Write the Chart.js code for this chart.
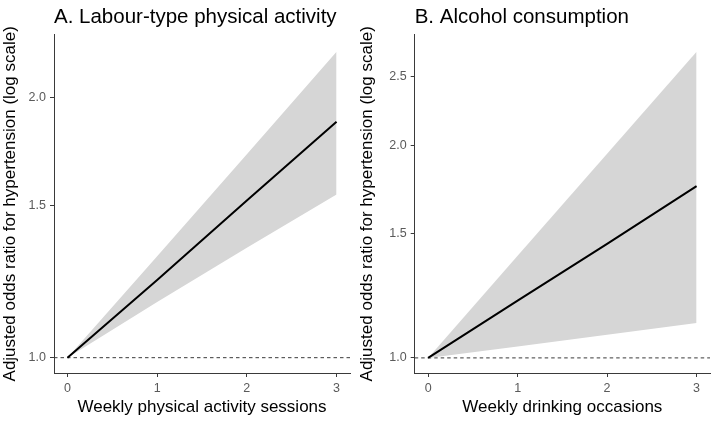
<!DOCTYPE html>
<html>
<head>
<meta charset="utf-8">
<script src="https://cdn.jsdelivr.net/npm/chart.js@4.4.1/dist/chart.umd.min.js"></script>
<style>
  body { margin: 0; background: #fff; }
  .wrap { display: flex; width: 714px; height: 422px; }
  .panel { position: relative; width: 357px; height: 422px; }
</style>
</head>
<body>
<div class="wrap">
  <div class="panel"><canvas id="chartA"></canvas></div>
  <div class="panel"><canvas id="chartB"></canvas></div>
</div>
<script>
// valores
const xValues = [0, 1, 2, 3];
const xTicks = [0, 1, 2, 3];

// A. atividade física tipo trabalho
const aEstimate = [1.00, 1.23, 1.52, 1.875];
const aLower = [1.00, 1.16, 1.34, 1.545];
const aUpper = [1.00, 1.31, 1.72, 2.26];
const aYTicks = [1.0, 1.5, 2.0];

// B. consumo de álcool
const bEstimate = [1.00, 1.205, 1.45, 1.75];
const bLower = [1.00, 1.038, 1.078, 1.12];
const bUpper = [1.00, 1.395, 1.945, 2.71];
const bYTicks = [1.0, 1.5, 2.0, 2.5];

const fontFamily = '"Liberation Sans", Arial, sans-serif';
const axisColor = '#3a3a3a';
const tickColor = '#5a5a5a';

// linha tracejada de referência em OR = 1
const refLinePlugin = {
    id: 'refLine',
    beforeDatasetsDraw(chart) {
        const { ctx, chartArea, scales } = chart;
        const y = scales.y.getPixelForValue(1);
        ctx.save();
        ctx.strokeStyle = axisColor;
        ctx.lineWidth = 1;
        ctx.setLineDash([3.5, 3]);
        ctx.beginPath();
        ctx.moveTo(chartArea.left, y);
        ctx.lineTo(chartArea.right, y);
        ctx.stroke();
        ctx.restore();
    }
};

function criarGrafico(canvasId, cfg) {
    const ctx = document.getElementById(canvasId).getContext('2d');
    const pts = arr => xValues.map((x, i) => ({ x: x, y: arr[i] }));
    return new Chart(ctx, {
        type: 'line',
        data: {
            datasets: [
                {
                    data: pts(cfg.upper),
                    borderWidth: 0,
                    pointRadius: 0,
                    backgroundColor: '#d6d6d6',
                    fill: '+1',
                    order: 2
                },
                {
                    data: pts(cfg.lower),
                    borderWidth: 0,
                    pointRadius: 0,
                    fill: false,
                    order: 2
                },
                {
                    data: pts(cfg.estimate),
                    borderColor: '#000000',
                    borderWidth: 2,
                    pointRadius: 0,
                    fill: false,
                    order: 0 // desenhada por cima da faixa
                }
            ]
        },
        options: {
            responsive: true,
            maintainAspectRatio: false,
            animation: false,
            layout: { padding: { left: 0, right: cfg.padRight, top: 0, bottom: 4 } },
            plugins: {
                legend: { display: false },
                tooltip: { enabled: false },
                title: {
                    display: true,
                    text: cfg.title,
                    align: 'start',
                    fullSize: false,
                    color: '#000000',
                    font: { family: fontFamily, size: 20.5, weight: 'normal' },
                    padding: { top: 5, bottom: 5 }
                }
            },
            scales: {
                x: {
                    type: 'linear',
                    min: -0.15,
                    max: 3.15,
                    afterBuildTicks: s => { s.ticks = xTicks.map(v => ({ value: v })); },
                    afterFit: s => { s.height = 45; },
                    grid: { drawOnChartArea: false, drawTicks: true, tickLength: 4, color: axisColor },
                    border: { display: true, color: axisColor, width: 1 },
                    ticks: {
                        color: tickColor,
                        padding: 4,
                        font: { family: fontFamily, size: 12.5 },
                        callback: v => String(v)
                    },
                    title: {
                        display: true,
                        text: cfg.xTitle,
                        color: '#000000',
                        font: { family: fontFamily, size: 17 },
                        padding: { top: 2, bottom: 0 }
                    }
                },
                y: {
                    type: 'logarithmic',
                    min: cfg.yMin,
                    max: cfg.yMax,
                    afterBuildTicks: s => { s.ticks = cfg.yTicks.map(v => ({ value: v })); },
                    afterFit: s => { s.width = cfg.yWidth; },
                    grid: { drawOnChartArea: false, drawTicks: true, tickLength: 4, color: axisColor },
                    border: { display: true, color: axisColor, width: 1 },
                    ticks: {
                        color: tickColor,
                        padding: 4,
                        autoSkip: false,
                        font: { family: fontFamily, size: 12.5 },
                        callback: v => Number(v).toFixed(1)
                    },
                    title: {
                        display: true,
                        text: 'Adjusted odds ratio for hypertension (log scale)',
                        color: '#000000',
                        font: { family: fontFamily, size: 17 },
                        padding: { top: 0, bottom: 0 }
                    }
                }
            }
        },
        plugins: [refLinePlugin]
    });
}

criarGrafico('chartA', {
    title: 'A. Labour-type physical activity',
    xTitle: 'Weekly physical activity sessions',
    estimate: aEstimate, lower: aLower, upper: aUpper,
    yTicks: aYTicks, yMin: 0.96, yMax: 2.365,
    yWidth: 54, padRight: 7
});

criarGrafico('chartB', {
    title: 'B. Alcohol consumption',
    xTitle: 'Weekly drinking occasions',
    estimate: bEstimate, lower: bLower, upper: bUpper,
    yTicks: bYTicks, yMin: 0.952, yMax: 2.866,
    yWidth: 57.7, padRight: 4
});
</script>
</body>
</html>
